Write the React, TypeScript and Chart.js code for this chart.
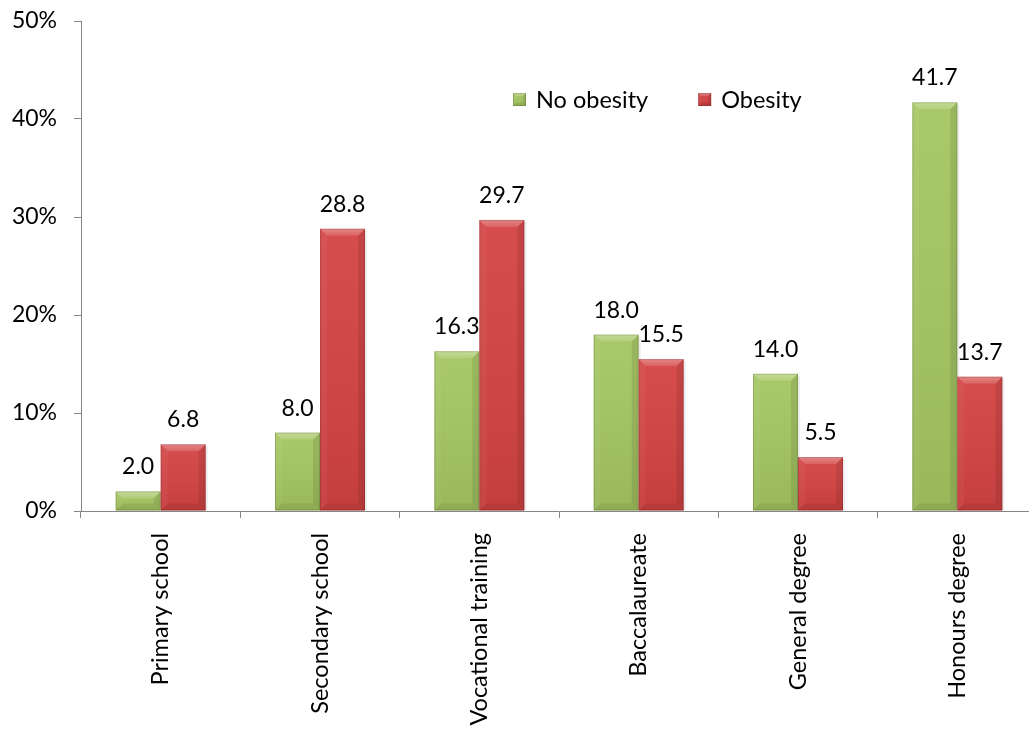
import { useEffect, useRef } from "react";
import { Chart, registerables } from "chart.js";

Chart.register(...registerables);

const categories = [
  "Primary school",
  "Secondary school",
  "Vocational training",
  "Baccalaureate",
  "General degree",
  "Honours degree",
];
const noObesity = [2.0, 8.0, 16.3, 18.0, 14.0, 41.7];
const obesity = [6.8, 28.8, 29.7, 15.5, 5.5, 13.7];
const seriesNames = ["No obesity", "Obesity"];
const seriesColors = ["#A5C661", "#D44343"];
const yMax = 50;
const yStep = 10;

const FONT = "Lato, 'Open Sans', sans-serif";
const AXIS_GREY = "#868686";

function bevelRect(ctx: CanvasRenderingContext2D, l: number, t: number, r: number, b: number, color: string, bev: number) {
  const h = b - t;
  const w = r - l;
  if (h <= 0 || w <= 0) return;
  const e = Math.min(bev, h / 2, w / 2);
  ctx.save();
  ctx.fillStyle = color;
  ctx.fillRect(l, t, w, h);
  // gentle top-to-bottom shading
  const g = ctx.createLinearGradient(0, t, 0, b);
  g.addColorStop(0, "rgba(255,255,255,0.05)");
  g.addColorStop(1, "rgba(0,0,0,0.07)");
  ctx.fillStyle = g;
  ctx.fillRect(l, t, w, h);
  const poly = (pts: number[][], fill: string | CanvasGradient) => {
    ctx.beginPath();
    ctx.moveTo(pts[0][0], pts[0][1]);
    for (let i = 1; i < pts.length; i++) ctx.lineTo(pts[i][0], pts[i][1]);
    ctx.closePath();
    ctx.fillStyle = fill;
    ctx.fill();
  };
  // top bevel
  const tg = ctx.createLinearGradient(0, t, 0, t + e);
  tg.addColorStop(0, "rgba(255,255,255,0.32)");
  tg.addColorStop(1, "rgba(255,255,255,0.12)");
  poly([[l, t], [r, t], [r - e, t + e], [l + e, t + e]], tg);
  // bottom bevel
  poly([[l, b], [r, b], [r - e, b - e], [l + e, b - e]], "rgba(0,0,0,0.07)");
  // left bevel
  poly([[l, t], [l + e, t + e], [l + e, b - e], [l, b]], "rgba(255,255,255,0.04)");
  // right bevel
  poly([[r, t], [r - e, t + e], [r - e, b - e], [r, b]], "rgba(0,0,0,0.09)");
  ctx.strokeStyle = "rgba(0,0,0,0.15)";
  ctx.lineWidth = 1;
  ctx.strokeRect(l + 0.5, t + 0.5, w - 1, h - 1);
  ctx.restore();
}

const barDecor = {
  id: "barDecor",
  afterDatasetsDraw(chart: any) {
    const ctx: CanvasRenderingContext2D = chart.ctx;
    chart.data.datasets.forEach((ds: any, di: number) => {
      const meta = chart.getDatasetMeta(di);
      meta.data.forEach((bar: any, i: number) => {
        const { x, y, base, width } = bar.getProps(["x", "y", "base", "width"], true);
        const l = x - width / 2;
        const r = x + width / 2;
        // faint shadow to the right
        ctx.save();
        ctx.fillStyle = "rgba(0,0,0,0.07)";
        ctx.fillRect(r, y + 2, 2, base - y - 2);
        ctx.restore();
        bevelRect(ctx, l, y, r, base, seriesColors[di], 7);
        ctx.save();
        ctx.font = `23px ${FONT}`;
        ctx.fillStyle = "#000";
        ctx.textAlign = "center";
        ctx.textBaseline = "alphabetic";
        ctx.fillText(Number(ds.data[i]).toFixed(1), x, y - 17);
        ctx.restore();
      });
    });

    // legend inside the plot area
    const area = chart.chartArea;
    let lx = area.left + 432;
    const ly = area.top + 72;
    ctx.save();
    ctx.font = `23.5px ${FONT}`;
    ctx.textBaseline = "alphabetic";
    ctx.textAlign = "left";
    seriesNames.forEach((name, i) => {
      bevelRect(ctx, lx, ly, lx + 13, ly + 13, seriesColors[i], 3);
      ctx.fillStyle = "#000";
      const tx = lx + 23;
      ctx.fillText(name, tx, ly + 15);
      lx = tx + ctx.measureText(name).width + 50;
    });
    ctx.restore();
  },
};

export default function App() {
  const canvasRef = useRef<HTMLCanvasElement | null>(null);

  useEffect(() => {
    document.body.style.margin = "0";
    document.body.style.overflow = "hidden";
    const canvas = canvasRef.current;
    if (!canvas) return;
    const chart = new Chart(canvas, {
      type: "bar",
      data: {
        labels: categories,
        datasets: [
          { label: seriesNames[0], data: noObesity, backgroundColor: "rgba(0,0,0,0)" },
          { label: seriesNames[1], data: obesity, backgroundColor: "rgba(0,0,0,0)" },
        ],
      },
      options: {
        responsive: false,
        animation: false,
        devicePixelRatio: 1,
        layout: { padding: { top: 21, right: 8, left: 0, bottom: 0 } },
        datasets: { bar: { categoryPercentage: 0.565, barPercentage: 1.0 } },
        plugins: {
          legend: { display: false },
          tooltip: { enabled: false },
        },
        scales: {
          x: {
            grid: {
              display: true,
              drawOnChartArea: false,
              drawTicks: true,
              tickLength: 7,
              color: AXIS_GREY,
              offset: true,
            },
            border: { display: true, color: AXIS_GREY, width: 1 },
            ticks: {
              color: "#000",
              font: { family: FONT, size: 23.5 },
              minRotation: 90,
              maxRotation: 90,
              autoSkip: false,
              padding: 15,
            },
            afterFit(scale: any) {
              scale.height = 218;
              scale.paddingLeft = 0;
              scale.paddingRight = 0;
            },
          },
          y: {
            min: 0,
            max: yMax,
            grid: {
              display: true,
              drawOnChartArea: false,
              drawTicks: true,
              tickLength: 7,
              color: AXIS_GREY,
            },
            border: { display: true, color: AXIS_GREY, width: 1 },
            ticks: {
              stepSize: yStep,
              color: "#000",
              font: { family: FONT, size: 23 },
              padding: 17,
              callback: (v: any) => `${v}%`,
            },
            afterFit(scale: any) {
              scale.width = 81;
              scale.paddingTop = 0;
              scale.paddingBottom = 0;
            },
          },
        },
      },
      plugins: [barDecor],
    });
    return () => chart.destroy();
  }, []);

  return (
    <div style={{ width: 1045, height: 729, overflow: "hidden" }}>
      <canvas ref={canvasRef} width={1045} height={729} style={{ display: "block" }} />
    </div>
  );
}
